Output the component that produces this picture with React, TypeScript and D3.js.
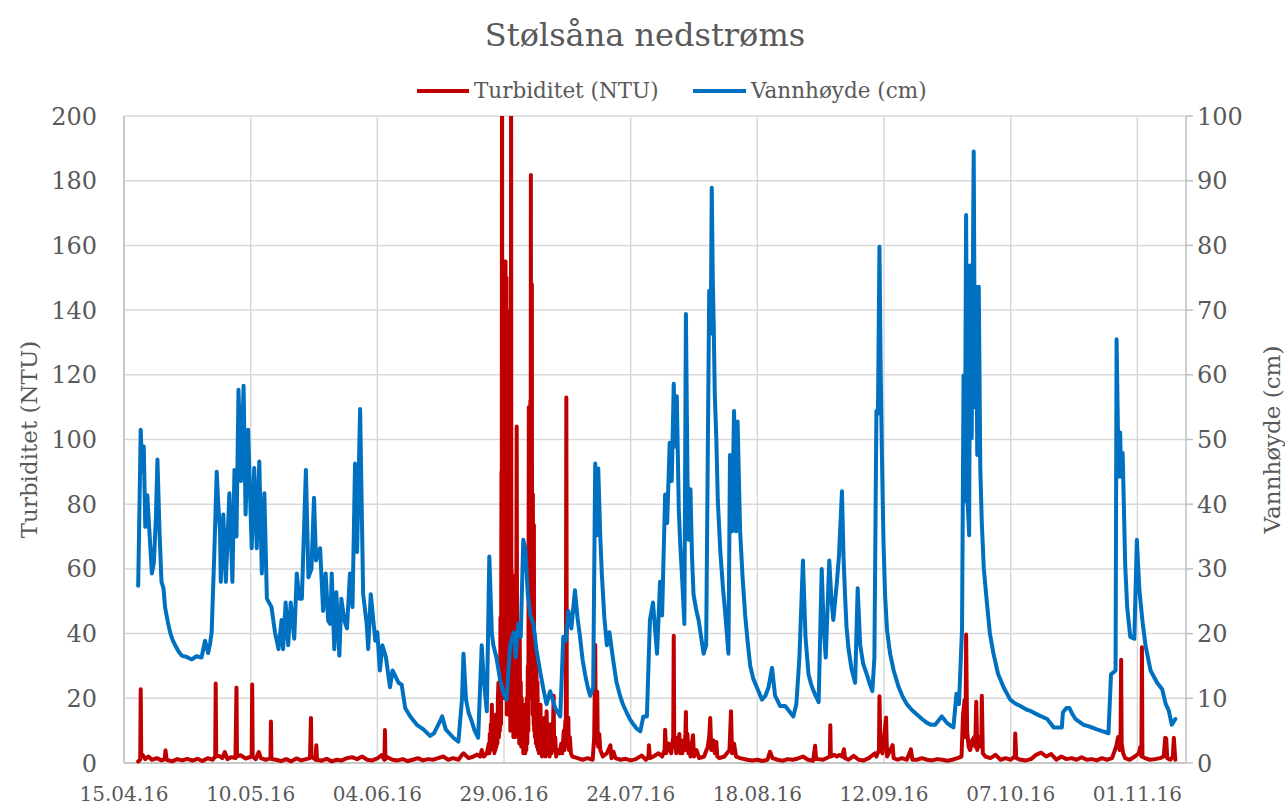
import React from "react";
import * as d3 from "d3";

// days after 15.04.16 -> water level (cm), right axis
const levelPoints: [number, number][] = [
  [2.8, 27.4], [3.3, 51.5], [3.6, 45], [3.9, 48.9], [4.2, 36.5], [4.6, 41.4], [5.0, 36], [5.5, 29.3],
  [5.9, 31], [6.3, 38], [6.6, 46.9], [7.0, 36], [7.4, 28], [7.8, 27], [8.1, 24.1], [8.6, 22],
  [9.1, 20.2], [9.6, 19], [10.1, 18.2], [10.8, 17.2], [11.4, 16.6], [12.3, 16.4], [13.4, 16],
  [14.3, 16.5], [15.3, 16.3], [16.0, 18.9], [16.6, 17], [17.0, 18.5], [17.3, 20.2], [17.8, 31.9],
  [18.3, 45], [18.6, 40], [18.95, 35.8], [19.1, 28], [19.6, 38.4], [20.1, 28], [20.8, 41.7],
  [21.4, 28], [21.8, 45.3], [22.2, 35], [22.6, 57.7], [23.1, 43.6], [23.6, 58.3], [24.0, 38.4],
  [24.5, 51.5], [25.2, 33.2], [25.7, 45.6], [26.2, 33.2], [26.7, 46.6], [27.2, 29.3], [27.7, 41.7],
  [28.2, 25.4], [29.1, 24.1], [29.8, 20.2], [30.5, 17.6], [31.1, 22.1], [31.4, 17.6], [31.9, 24.8],
  [32.4, 18.2], [32.9, 24.8], [33.6, 19.2], [34.1, 29.3], [34.6, 25.4], [35.1, 25.4], [35.9, 45.3],
  [36.4, 28.7], [37.0, 30], [37.5, 41], [37.9, 31.3], [38.7, 33.2], [39.3, 23.5], [39.8, 29.3],
  [40.3, 22], [40.7, 21.5], [41.0, 29.3], [41.5, 17.6], [41.9, 26.4], [42.5, 16.6], [42.9, 25.4],
  [43.5, 22], [44.0, 20.8], [44.6, 29.3], [45.1, 24.1], [45.6, 46.3], [46.0, 32.6], [46.6, 54.7],
  [47.2, 26.1], [47.9, 21.5], [48.2, 17.6], [48.7, 26.1], [49.6, 18.9], [50.0, 20.2], [50.5, 14.3],
  [51.0, 18.2], [51.7, 16.3], [52.5, 11.7], [53.0, 14.3], [54.2, 12.4], [54.8, 12.1], [55.5, 8.5],
  [56.5, 7.2], [57.8, 5.9], [59.1, 5.2], [60.4, 4.2], [61.2, 4.6], [62.4, 6.5], [62.8, 7.2],
  [63.5, 5.2], [65.0, 3.9], [66.0, 3.3], [66.7, 9.8], [67.0, 16.9], [67.5, 9.8], [68.0, 7.8],
  [68.6, 6.5], [69.2, 5], [69.9, 3.9], [70.6, 18.2], [71.0, 13], [71.6, 8], [72.1, 31.9],
  [72.6, 20], [72.9, 18.2], [73.5, 16.3], [74.2, 13], [74.8, 11], [75.5, 9.8], [76.2, 18.2],
  [76.9, 20.2], [77.3, 16.3], [77.8, 21.5], [78.3, 19.5], [78.8, 34.5], [79.2, 33.2], [79.7, 26],
  [80.2, 22.8], [80.8, 21.5], [81.4, 17.5], [82.1, 14.3], [82.8, 11.3], [83.4, 9.1], [84.1, 11.1],
  [85.1, 8.5], [86.1, 7.2], [86.7, 19.5], [87.2, 18.9], [87.7, 23.5], [88.3, 20.8], [89.0, 26.7],
  [89.5, 22.5], [90.0, 19.5], [90.5, 16], [91.0, 13.7], [91.5, 11.8], [92.0, 10.4], [92.6, 11.7],
  [93.0, 46.3], [93.3, 35.2], [93.6, 45.5], [94.0, 35], [94.3, 29.3], [94.8, 22.5], [95.3, 18.2],
  [95.8, 20.2], [96.6, 15.6], [97.2, 12.5], [97.9, 10.4], [98.5, 9], [99.2, 7.8], [99.9, 6.7],
  [100.6, 5.9], [101.2, 5.3], [101.9, 4.9], [102.5, 7.2], [103.2, 7.2], [103.8, 22.1], [104.4, 24.8],
  [105.2, 16.9], [105.8, 28], [106.2, 22.8], [106.8, 41.5], [107.2, 37.1], [107.7, 49.5], [108.1, 43.6],
  [108.5, 58.6], [108.8, 48.9], [109.1, 56.7], [109.5, 39.1], [109.8, 33.5], [110.1, 29.3], [110.6, 21.5],
  [110.9, 69.4], [111.2, 45], [111.4, 34.5], [111.8, 42.3], [112.1, 32], [112.4, 26.1], [112.9, 23.8],
  [113.4, 22.1], [113.9, 19.5], [114.4, 16.9], [114.9, 18.2], [115.2, 46.3], [115.5, 73], [115.8, 66.4],
  [116.0, 88.9], [116.2, 75], [116.4, 67.1], [116.6, 57], [116.9, 50.2], [117.2, 40.5], [117.7, 32.6],
  [118.2, 27.2], [118.7, 22.8], [119.0, 19.8], [119.3, 16.9], [119.6, 47.6], [120.0, 35.8],
  [120.4, 54.4], [120.8, 35.8], [121.1, 52.8], [121.6, 35.8], [122.1, 28.5], [122.6, 22.8],
  [123.1, 18.6], [123.6, 15], [124.2, 13], [124.9, 11.7], [125.9, 9.8], [126.6, 10.4], [127.2, 11.7],
  [127.9, 14.7], [128.5, 10.4], [129.5, 8.8], [130.5, 8.8], [131.5, 7.8], [132.1, 7.2], [132.7, 9.1],
  [133.3, 16.3], [134.0, 31.3], [134.5, 19.5], [135.1, 13.7], [135.6, 12.2], [136.1, 11.1],
  [137.1, 9.4], [137.7, 30], [138.1, 21], [138.5, 16.3], [139.2, 31.3], [139.6, 25.5], [140.0, 22.1],
  [140.7, 28], [141.1, 31.9], [141.7, 42], [142.0, 32], [142.3, 26.1], [142.6, 21], [143.0, 17.6],
  [143.6, 14.5], [144.3, 12.4], [144.8, 27], [145.3, 18.2], [145.9, 15.3], [146.6, 13.7],
  [147.2, 12.2], [147.7, 11.1], [148.1, 16.3], [148.5, 54.4], [148.8, 54], [149.1, 79.8],
  [149.35, 60], [149.6, 46.9], [149.9, 34], [150.2, 26.1], [150.6, 20.5], [151.2, 16.9],
  [151.9, 14.3], [152.9, 11.7], [153.7, 10.2], [154.5, 9.1], [155.5, 8.2], [156.5, 7.5],
  [157.5, 6.8], [158.5, 6.2], [159.3, 5.9], [160.1, 5.9], [160.8, 6.6], [161.4, 7.2], [162.0, 6.6],
  [162.4, 6.2], [163.1, 5.8], [163.7, 5.5], [164.3, 10.7], [164.8, 9.1], [165.4, 20.8], [165.7, 59.9],
  [165.95, 40.4], [166.2, 84.7], [166.5, 40.4], [166.8, 35.2], [167.0, 76.9], [167.3, 50.2],
  [167.7, 94.5], [167.95, 55], [168.2, 73.6], [168.4, 47.6], [168.7, 73.6], [169.0, 45.6],
  [169.3, 37.1], [169.7, 30], [170.3, 24.8], [170.9, 20], [171.6, 16.9], [172.5, 13.8],
  [173.6, 11.7], [174.9, 9.8], [175.9, 9.2], [176.9, 8.8], [178.0, 8.3], [179.0, 8.0], [180.5, 7.4],
  [182.2, 6.8], [183.5, 5.5], [184.3, 5.5], [185.1, 5.5], [185.3, 7.8], [186.0, 8.5], [186.6, 8.5],
  [187.2, 7.5], [187.8, 6.8], [189.4, 5.9], [190.7, 5.6], [192.0, 5.2], [193.2, 4.9], [194.3, 4.6],
  [194.8, 13.7], [195.7, 14.3], [195.9, 65.5], [196.3, 44.3], [196.6, 51.1], [196.8, 44.3],
  [197.1, 47.9], [197.6, 30.6], [198.0, 24], [198.6, 19.5], [199.4, 19.2], [199.9, 34.5],
  [200.4, 26.7], [201.0, 22], [201.6, 18.2], [202.6, 14.3], [203.9, 12.4], [204.9, 11.4],
  [205.6, 9.1], [206.2, 8.1], [206.8, 5.9], [207.5, 6.8],
];

// days after 15.04.16 -> turbidity (NTU), left axis
const turbidityPoints: [number, number][] = [
  [2.8, 0.5], [3.2, 1], [3.3, 22.8], [3.4, 2], [3.7, 2.5], [4.2, 1.2], [4.8, 2], [5.5, 1], [6.5, 1.5],
  [7.4, 0.8], [8.0, 1.2], [8.2, 3.9], [8.4, 1], [9.5, 0.5], [10.5, 1.2], [11.5, 0.8], [12.5, 1.3],
  [13.5, 0.7], [14.5, 1.3], [15.5, 0.6], [16.5, 1.5], [17.5, 1], [18.0, 2], [18.1, 24.6], [18.2, 2],
  [18.8, 2.2], [19.4, 1.5], [19.9, 3.4], [20.4, 1.2], [21.2, 1.8], [22.0, 1.5], [22.2, 23.3],
  [22.3, 2], [23.0, 2.4], [24.0, 1.4], [25.2, 2], [25.3, 24.3], [25.4, 2], [26.0, 1.2], [26.6, 3.4],
  [27.0, 1.5], [28.0, 1], [28.9, 1.5], [29.0, 12.8], [29.1, 1.2], [30, 1], [31, 0.6], [32, 1.2],
  [33, 0.5], [34, 1.4], [35, 0.8], [36.7, 1.5], [36.9, 13.9], [37.0, 2], [37.8, 1], [37.95, 5.5],
  [38.1, 1], [39, 0.7], [40, 1.3], [41, 0.5], [42, 1], [43, 0.8], [44, 1.5], [45, 1.8], [46, 1.2],
  [47, 2], [48, 1], [49, 0.8], [50, 1.4], [50.8, 2.4], [51.4, 1], [51.5, 10.2], [51.6, 1.2],
  [52, 1.8], [53, 1], [54, 0.8], [55, 1.2], [56, 0.6], [57, 1], [58, 1.5], [59, 0.8], [60, 1.2],
  [61, 1], [62, 1.5], [63, 2], [64, 1], [65, 1.5], [66, 1], [66.7, 2.5], [67, 3], [68, 1.5], [69, 2],
  [69.7, 2.6], [70.3, 2], [70.6, 4], [71, 2], [71.6, 3], [72.0, 6], [72.1, 3], [72.2, 9], [72.3, 4],
  [72.4, 12], [72.5, 5], [72.6, 18], [72.7, 6], [72.8, 14], [72.9, 4], [73.0, 10], [73.1, 3], [73.2, 8],
  [73.3, 4], [73.4, 15], [73.5, 5], [73.6, 12], [73.7, 6], [73.8, 20], [73.9, 24.8], [74.0, 8],
  [74.1, 18], [74.2, 10], [74.3, 45], [74.4, 12], [74.5, 90], [74.55, 20], [74.6, 210], [74.65, 30],
  [74.7, 155], [74.75, 20], [74.8, 155], [74.85, 35], [74.9, 140], [74.95, 25], [75.0, 155],
  [75.05, 40], [75.1, 150], [75.15, 20], [75.2, 155], [75.25, 30], [75.3, 155], [75.35, 20],
  [75.4, 130], [75.45, 25], [75.5, 150], [75.55, 15], [75.6, 140], [75.65, 30], [75.7, 110],
  [75.75, 20], [75.8, 100], [75.85, 15], [75.9, 80], [75.95, 25], [76.0, 120], [76.05, 15], [76.1, 60],
  [76.15, 20], [76.2, 90], [76.25, 10], [76.3, 60], [76.35, 20], [76.4, 210], [76.45, 40], [76.5, 60],
  [76.55, 10], [76.6, 55], [76.65, 15], [76.7, 58], [76.75, 10], [76.8, 45], [76.85, 8], [76.9, 50],
  [76.95, 10], [77.0, 40], [77.1, 8], [77.2, 55], [77.3, 10], [77.4, 30], [77.5, 104], [77.6, 12],
  [77.7, 40], [77.8, 8], [77.9, 30], [78.0, 6], [78.1, 40], [78.2, 8], [78.3, 25], [78.4, 5],
  [78.5, 20], [78.6, 6], [78.7, 15], [78.8, 3], [78.9, 18], [79.0, 4], [79.1, 12], [79.2, 3],
  [79.3, 16], [79.4, 4], [79.5, 20], [79.6, 6], [79.7, 30], [79.8, 10], [79.85, 60], [79.9, 110],
  [79.95, 30], [80.0, 90], [80.05, 20], [80.1, 100], [80.15, 25], [80.2, 112], [80.25, 30],
  [80.3, 181.8], [80.35, 40], [80.4, 148], [80.45, 30], [80.5, 148], [80.55, 20], [80.6, 83],
  [80.65, 15], [80.7, 83], [80.75, 20], [80.8, 73.6], [80.85, 12], [80.9, 73.6], [80.95, 10],
  [81.0, 40], [81.1, 8], [81.2, 32], [81.3, 6], [81.4, 30], [81.5, 5], [81.6, 25], [81.7, 4],
  [81.8, 15], [81.9, 3], [82.0, 13], [82.1, 4], [82.2, 18], [82.3, 3], [82.4, 12], [82.5, 2],
  [82.6, 10], [82.8, 3], [83.0, 14], [83.2, 2], [83.4, 16], [83.6, 3], [83.8, 8], [84.0, 2],
  [84.2, 12], [84.4, 3], [84.6, 6], [84.8, 20.8], [84.9, 4], [85.1, 8], [85.3, 2], [85.6, 4],
  [86.0, 3], [86.3, 6], [86.5, 3], [86.8, 10], [86.9, 4], [87.1, 13], [87.2, 6], [87.3, 113],
  [87.4, 8], [87.5, 14], [87.6, 5], [87.7, 14], [87.8, 4], [88.0, 8], [88.2, 3], [88.5, 2],
  [89.5, 1.5], [90.5, 1], [91.5, 1.5], [92.5, 1], [92.8, 8], [92.9, 20.7], [93.0, 36.5], [93.1, 10],
  [93.2, 15], [93.3, 6], [93.4, 22], [93.5, 7], [93.6, 5], [93.8, 9], [94.0, 4], [94.5, 2], [95.3, 3],
  [96.0, 5.5], [96.2, 1.5], [96.6, 3.5], [97, 1.5], [98, 1], [99, 1.3], [100, 0.8], [101, 1.2],
  [102.2, 2.3], [103, 1], [103.5, 2], [103.6, 5.5], [103.8, 1.5], [104.5, 2], [105.5, 3], [106.2, 2],
  [106.7, 4], [106.8, 10.3], [107, 3], [107.5, 6], [108, 3], [108.4, 8], [108.5, 39.3], [108.6, 5],
  [108.8, 8], [109.0, 3], [109.2, 7], [109.4, 4], [109.6, 9], [109.8, 3], [110.0, 6], [110.2, 3],
  [110.4, 7], [110.6, 4], [110.8, 9], [110.9, 15.8], [111.0, 4], [111.2, 9], [111.4, 3], [111.6, 6],
  [111.8, 2], [112.0, 5], [112.3, 8.6], [112.5, 2], [113.0, 4], [113.5, 1.5], [114.5, 2], [115.2, 5],
  [115.5, 8], [115.7, 13.9], [115.9, 4], [116.3, 7], [116.6, 3], [116.9, 6.5], [117.1, 2], [117.5, 1.5],
  [118.5, 2], [119.5, 4], [119.8, 16], [120, 3], [120.4, 6], [120.8, 2], [121.6, 1.5], [123, 1],
  [124, 0.8], [125, 1], [126, 0.6], [127, 1], [127.5, 3.5], [128, 1.5], [129, 1], [130, 0.7],
  [131, 1.2], [132, 1], [133, 1.4], [134, 2], [135, 1], [136, 0.7], [136.4, 5.3], [136.6, 1.2],
  [137, 1.2], [138, 1], [139.3, 2], [139.4, 11.7], [139.5, 2], [140.2, 2.5], [140.7, 2],
  [141.2, 2.5], [141.7, 2], [142.1, 4.2], [142.3, 1.5], [143, 1], [144, 2.2], [145, 1], [146, 0.8],
  [147, 1.5], [148.2, 3], [148.5, 2], [149.0, 4], [149.1, 20.6], [149.3, 4], [149.7, 3],
  [150.4, 14.1], [150.6, 2], [151.7, 5.5], [151.9, 1.5], [152.7, 1], [153.5, 1.5], [154.5, 1],
  [155.3, 4.2], [155.6, 1], [156.5, 1], [157.5, 1.5], [158.5, 1], [159.5, 0.8], [160.5, 1.2],
  [161.5, 1], [162.5, 0.7], [163.5, 1], [164.5, 1.5], [165.3, 2], [165.6, 15], [165.9, 19.5],
  [166.1, 8], [166.2, 39.7], [166.4, 10], [166.7, 5], [167.0, 4], [167.4, 7], [167.8, 8], [168.0, 5],
  [168.2, 18.9], [168.4, 4], [168.8, 8], [169.2, 5], [169.3, 20.8], [169.5, 3], [170, 2], [171, 1.5],
  [172, 2.5], [173, 1], [174, 1.5], [175, 1], [175.8, 2], [175.9, 9.1], [176.1, 1.5], [177, 1],
  [178, 0.8], [179, 1.2], [180, 2.5], [181, 3.2], [182, 2], [183, 2.8], [184, 1], [185, 2],
  [186, 1.2], [187, 1.5], [188, 1], [189, 1.8], [190, 1], [191, 1.2], [192, 0.8], [193, 1.5],
  [194, 1], [195, 1.5], [195.8, 5], [196.2, 8], [196.5, 4], [196.7, 10], [196.8, 31.9], [196.9, 6],
  [197.2, 3], [197.6, 1.5], [198.5, 1], [199.5, 2], [200.3, 3], [200.6, 5], [200.8, 2],
  [200.9, 35.8], [201.0, 2], [201.5, 1.5], [202.5, 1], [203.5, 1.2], [204.5, 1.5], [205.2, 2],
  [205.5, 7.8], [205.7, 7.5], [205.9, 1.5], [206.5, 1], [207.0, 2], [207.2, 7.8], [207.4, 3],
  [207.5, 1],
];

const xTickDates = [
  "2016-04-15", "2016-05-10", "2016-06-04", "2016-06-29", "2016-07-24",
  "2016-08-18", "2016-09-12", "2016-10-07", "2016-11-01",
];
const turbidityTicks = [0, 20, 40, 60, 80, 100, 120, 140, 160, 180, 200];
const levelTicks = [0, 10, 20, 30, 40, 50, 60, 70, 80, 90, 100];

const W = 1285;
const H = 805;
const left = 124;
const right = 1186;
const top = 116;
const bottom = 763;
const FONT = "'DejaVu Serif', serif";
const TEXT = "#595959";
const RED = "#C00000";
const BLUE = "#0070C0";

const START = Date.UTC(2016, 3, 15);
const DAY = 86400000;
const toDate = (d: number) => new Date(START + d * DAY);

export default function App() {
  const x = d3.scaleUtc().domain([toDate(0), toDate(209.6)]).range([left, right]);
  const yL = d3.scaleLinear().domain([0, 200]).range([bottom, top]);
  const yR = d3.scaleLinear().domain([0, 100]).range([bottom, top]);
  const fmt = d3.utcFormat("%d.%m.%y");

  const turbLine = d3
    .line<[number, number]>()
    .x((d) => x(toDate(d[0])))
    .y((d) => yL(d[1]));
  const levelLine = d3
    .line<[number, number]>()
    .x((d) => x(toDate(d[0])))
    .y((d) => yR(d[1]));

  const ticks = xTickDates.map((s) => new Date(s + "T00:00:00Z"));
  const midY = (top + bottom) / 2;

  return (
    <svg
      width={W}
      height={H}
      style={{ position: "absolute", left: 0, top: 0, background: "#fff" }}
      fontFamily={FONT}
    >
      <defs>
        <clipPath id="plot">
          <rect x={left - 2} y={top} width={right - left + 4} height={bottom - top + 3} />
        </clipPath>
      </defs>

      {/* gridlines */}
      {turbidityTicks.map((t) => (
        <line key={"h" + t} x1={left} x2={right} y1={yL(t)} y2={yL(t)} stroke="#d9d9d9" strokeWidth={1.5} />
      ))}
      {ticks.map((d, i) => (
        <line key={"v" + i} x1={x(d)} x2={x(d)} y1={top} y2={bottom} stroke="#d9d9d9" strokeWidth={1.5} />
      ))}

      {/* axes */}
      <line x1={left} x2={left} y1={top} y2={bottom} stroke="#bfbfbf" strokeWidth={1.5} />
      <line x1={right} x2={right} y1={top} y2={bottom} stroke="#bfbfbf" strokeWidth={1.5} />
      <line x1={left} x2={right} y1={bottom} y2={bottom} stroke="#bfbfbf" strokeWidth={1.5} />
      {levelTicks.map((t) => (
        <line key={"rt" + t} x1={right} x2={right + 7} y1={yR(t)} y2={yR(t)} stroke="#bfbfbf" strokeWidth={1.5} />
      ))}

      {/* series */}
      <g clipPath="url(#plot)" fill="none" strokeLinejoin="round" strokeLinecap="round">
        <path d={turbLine(turbidityPoints) ?? ""} stroke={RED} strokeWidth={4} />
        <path d={levelLine(levelPoints) ?? ""} stroke={BLUE} strokeWidth={4} />
      </g>

      {/* tick labels */}
      {turbidityTicks.map((t) => (
        <text key={"lt" + t} x={97} y={yL(t) + 8.5} textAnchor="end" fontSize={24} fill={TEXT}>
          {t}
        </text>
      ))}
      {levelTicks.map((t) => (
        <text key={"rl" + t} x={1197} y={yR(t) + 8.5} textAnchor="start" fontSize={24} fill={TEXT}>
          {t}
        </text>
      ))}
      {ticks.map((d, i) => (
        <text key={"xl" + i} x={x(d)} y={801} textAnchor="middle" fontSize={20} fill={TEXT}>
          {fmt(d)}
        </text>
      ))}

      {/* axis titles */}
      <text transform={`translate(37,${midY}) rotate(-90)`} textAnchor="middle" fontSize={23} fill={TEXT}>
        Turbiditet (NTU)
      </text>
      <text transform={`translate(1280,${midY}) rotate(-90)`} textAnchor="middle" fontSize={23} fill={TEXT}>
        Vannhøyde (cm)
      </text>

      {/* title */}
      <text x={645} y={46} textAnchor="middle" fontSize={32} fill={TEXT}>
        Stølsåna nedstrøms
      </text>

      {/* legend */}
      <line x1={417} x2={469} y1={91} y2={91} stroke={RED} strokeWidth={4} />
      <text x={474} y={98} fontSize={21.5} fill={TEXT}>
        Turbiditet (NTU)
      </text>
      <line x1={693} x2={746} y1={91} y2={91} stroke={BLUE} strokeWidth={4} />
      <text x={751} y={98} fontSize={21.5} fill={TEXT}>
        Vannhøyde (cm)
      </text>
    </svg>
  );
}
